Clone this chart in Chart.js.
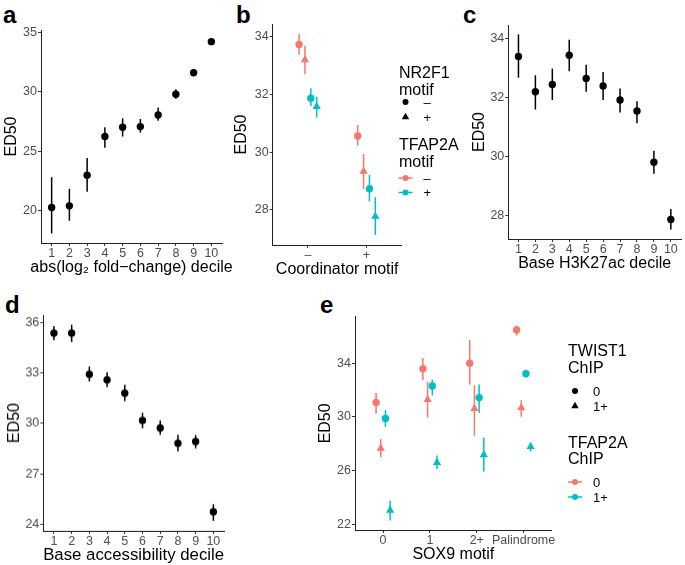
<!DOCTYPE html>
<html><head><meta charset="utf-8">
<script src="https://cdn.jsdelivr.net/npm/chart.js@4"></script>
<style>
html,body{margin:0;padding:0;background:#fff}
body{width:685px;height:565px;position:relative;overflow:hidden;font-family:"Liberation Sans",Arial,sans-serif}
canvas{position:absolute}
.lab{position:absolute;font-weight:bold;font-size:24px;line-height:24px;color:#000}
</style></head><body>
<div class="lab" style="left:3px;top:3px">a</div>
<div class="lab" style="left:236px;top:3px">b</div>
<div class="lab" style="left:463px;top:3px">c</div>
<div class="lab" style="left:5px;top:293px">d</div>
<div class="lab" style="left:320px;top:293px">e</div>
<script>
// ---------- DATA ----------
const decileTicks = ['1','2','3','4','5','6','7','8','9','10'];

// Panel a: abs(log2 fold-change) decile
const aMean = [20.28, 20.42, 23.0, 26.25, 27.03, 27.08, 28.06, 29.8, 31.61, 34.22];
const aLow  = [18.1, 19.17, 21.61, 25.3, 26.25, 26.58, 27.58, 29.42, 31.36, 34.07];
const aHigh = [22.83, 21.86, 24.44, 27.03, 27.78, 27.72, 28.69, 30.22, 31.86, 34.37];
const aYTicks = [20, 25, 30, 35];

// Panel b: Coordinator motif, by TFAP2A motif (colour) and NR2F1 motif (shape)
const bCategories = ['–', '+'];
const bYTicks = [28, 30, 32, 34];
const bTfNegNrNeg   = [33.73, 30.56];
const bTfNegNrNegLo = [33.37, 30.22];
const bTfNegNrNegHi = [34.09, 30.94];
const bTfNegNrPos   = [33.2, 29.33];
const bTfNegNrPosLo = [32.7, 28.72];
const bTfNegNrPosHi = [33.69, 29.93];
const bTfPosNrNeg   = [31.87, 28.73];
const bTfPosNrNegLo = [31.6, 28.29];
const bTfPosNrNegHi = [32.21, 29.21];
const bTfPosNrPos   = [31.58, 27.77];
const bTfPosNrPosLo = [31.2, 27.13];
const bTfPosNrPosHi = [31.92, 28.44];

// Panel c: Base H3K27ac decile
const cMean = [33.4, 32.2, 32.45, 33.44, 32.65, 32.4, 31.92, 31.55, 29.81, 27.86];
const cLow  = [32.68, 31.6, 31.92, 32.9, 32.2, 31.92, 31.5, 31.13, 29.42, 27.52];
const cHigh = [34.15, 32.76, 32.99, 33.97, 33.12, 32.87, 32.31, 31.88, 30.2, 28.22];
const cYTicks = [28, 30, 32, 34];

// Panel d: Base accessibility decile
const dMean = [35.38, 35.38, 32.92, 32.6, 31.8, 30.17, 29.73, 28.82, 28.92, 24.74];
const dLow  = [34.95, 34.85, 32.5, 32.16, 31.32, 29.71, 29.33, 28.34, 28.52, 24.2];
const dHigh = [35.8, 35.88, 33.39, 33.05, 32.3, 30.63, 30.17, 29.33, 29.31, 25.19];
const dYTicks = [24, 27, 30, 33, 36];

// Panel e: SOX9 motif, by TFAP2A ChIP (colour) and TWIST1 ChIP (shape)
const eCategories = ['0', '1', '2+', 'Palindrome'];
const eYTicks = [22, 26, 30, 34];
const eTf0Tw0   = [31.07, 33.58, 34.0, 36.46];
const eTf0Tw0Lo = [30.26, 32.72, 32.4, 36.04];
const eTf0Tw0Hi = [31.78, 34.39, 35.72, 36.78];
const eTf0Tw1   = [27.67, 31.29, 30.63, 30.67];
const eTf0Tw1Lo = [27.0, 29.96, 28.6, 30.01];
const eTf0Tw1Hi = [28.36, 32.6, 32.35, 31.24];
const eTf1Tw0   = [29.89, 32.3, 31.44, 33.21];
const eTf1Tw0Lo = [29.27, 31.61, 30.3, 32.97];
const eTf1Tw0Hi = [30.5, 32.77, 32.42, 33.46];
const eTf1Tw1   = [23.06, 26.61, 27.18, 27.79];
const eTf1Tw1Lo = [22.3, 26.14, 25.95, 27.42];
const eTf1Tw1Hi = [23.78, 27.13, 28.48, 28.11];

// ---------- STYLE ----------
const RED = '#F8766D', CYAN = '#00BFC4', BLACK = '#000000';
const FONT = "'Liberation Sans', Arial, Helvetica, sans-serif";
const DODGE = [-0.15, -0.05, 0.05, 0.15];
Chart.defaults.font.family = FONT;

function drawMark(ctx, style, x, y, r, color) {
  ctx.fillStyle = color;
  ctx.beginPath();
  if (style === 'triangle') {
    let rad = 0;
    ctx.moveTo(x + Math.sin(rad) * r, y - Math.cos(rad) * r);
    rad += 2 * Math.PI / 3;
    ctx.lineTo(x + Math.sin(rad) * r, y - Math.cos(rad) * r);
    rad += 2 * Math.PI / 3;
    ctx.lineTo(x + Math.sin(rad) * r, y - Math.cos(rad) * r);
    ctx.closePath();
  } else {
    ctx.arc(x, y, r, 0, Math.PI * 2);
  }
  ctx.fill();
}

const errorBars = {
  id: 'errorBars',
  beforeDatasetsDraw(chart) {
    const ctx = chart.ctx, y = chart.scales.y;
    chart.data.datasets.forEach((ds, i) => {
      if (!ds.lo) return;
      const meta = chart.getDatasetMeta(i);
      ctx.save();
      ctx.strokeStyle = ds.backgroundColor;
      ctx.lineWidth = 1.5;
      meta.data.forEach((pt, j) => {
        ctx.beginPath();
        ctx.moveTo(pt.x, y.getPixelForValue(ds.lo[j]));
        ctx.lineTo(pt.x, y.getPixelForValue(ds.hi[j]));
        ctx.stroke();
      });
      ctx.restore();
    });
  }
};

function xTitlePlugin(text, size) {
  return {
    id: 'xTitle',
    afterDraw(chart) {
      const ctx = chart.ctx, ca = chart.chartArea;
      ctx.save();
      ctx.font = size + 'px ' + FONT;
      ctx.fillStyle = '#000';
      ctx.textAlign = 'center';
      ctx.textBaseline = 'alphabetic';
      ctx.fillText(text, (ca.left + ca.right) / 2, ca.bottom + 29);
      ctx.restore();
    }
  };
}

function legendPlugin(spec) {
  return {
    id: 'customLegend',
    afterDraw(chart) {
      const ctx = chart.ctx;
      ctx.save();
      spec.forEach(it => {
        if (it.title) {
          ctx.font = '16px ' + FONT;
          ctx.fillStyle = '#000';
          ctx.textBaseline = 'alphabetic';
          ctx.fillText(it.text, it.x, it.y);
        } else {
          if (it.line) {
            ctx.strokeStyle = it.color; ctx.lineWidth = 1.5;
            ctx.beginPath(); ctx.moveTo(it.x - 7, it.y); ctx.lineTo(it.x + 7, it.y); ctx.stroke();
          }
          drawMark(ctx, it.shape, it.x, it.y, it.shape === 'triangle' ? 4.3 : 3, it.color);
          ctx.font = '13px ' + FONT;
          ctx.fillStyle = '#000';
          ctx.textBaseline = 'middle';
          ctx.fillText(it.label, it.x + 18, it.y + 1);
        }
      });
      ctx.restore();
    }
  };
}

function series(cats, means, lo, hi, k, shape, color) {
  return {
    data: means.map((m, i) => ({ x: i + 1 + (k === null ? 0 : DODGE[k]), y: m })),
    lo, hi,
    pointStyle: shape,
    pointRadius: shape === 'triangle' ? 4.8 : 3.7,
    backgroundColor: color,
    borderColor: color,
    borderWidth: 0,
    showLine: false
  };
}

function makePanel(box, xLabels, yTicks, yMin, yMax, xTitle, datasets, extraPlugins) {
  const cv = document.createElement('canvas');
  cv.width = box.w; cv.height = box.h;
  cv.style.left = box.left + 'px'; cv.style.top = box.top + 'px';
  cv.style.width = box.w + 'px'; cv.style.height = box.h + 'px';
  document.body.appendChild(cv);
  const gridOpts = { drawOnChartArea: false, drawTicks: true, tickLength: 3, color: '#333333', lineWidth: 1 };
  return new Chart(cv, {
    type: 'scatter',
    data: { datasets },
    options: {
      responsive: false, animation: false, events: [],
      devicePixelRatio: 1,
      layout: { padding: { top: box.padTop, right: box.padRight, left: 0, bottom: 0 } },
      plugins: { legend: { display: false }, tooltip: { enabled: false } },
      scales: {
        x: {
          type: 'linear', min: 0.4, max: xLabels.length + 0.6,
          afterBuildTicks: s => { s.ticks = xLabels.map((_, i) => ({ value: i + 1 })); },
          afterFit: s => { s.height = box.xHeight; },
          ticks: { autoSkip: false, maxRotation: 0, color: '#4D4D4D', font: { size: 12.5 }, padding: 0,
                   callback: v => xLabels[Math.round(v) - 1] },
          grid: gridOpts,
          border: { display: true, color: '#222222', width: 1 },
          title: { display: false }
        },
        y: {
          type: 'linear', min: yMin, max: yMax,
          afterBuildTicks: s => { s.ticks = yTicks.map(v => ({ value: v })); },
          afterFit: s => { s.width = box.yWidth; },
          ticks: { autoSkip: false, color: '#4D4D4D', font: { size: 12.5 }, padding: 1 },
          grid: gridOpts,
          border: { display: true, color: '#222222', width: 1 },
          title: { display: true, text: 'ED50', color: '#000', font: { size: 16 }, padding: { top: 2, bottom: 0 } }
        }
      }
    },
    plugins: [errorBars, xTitlePlugin(xTitle, box.titleSize || 16)].concat(extraPlugins || [])
  });
}

// Panel a
makePanel({ left: 0, top: 0, w: 238, h: 278.3, yWidth: 41, padTop: 30, padRight: 16, xHeight: 35, titleSize: 16 },
  decileTicks, aYTicks, 17.3, 35.2, 'abs(log\u2082 fold\u2212change) decile',
  [series(decileTicks, aMean, aLow, aHigh, null, 'circle', BLACK)]);

// Panel b
const bLeft = 230;
makePanel({ left: bLeft, top: 0, w: 240, h: 280, yWidth: 42.7, padTop: 24, padRight: 68.3, xHeight: 35 },
  bCategories, bYTicks, 26.78, 34.44, 'Coordinator motif',
  [series(bCategories, bTfNegNrNeg, bTfNegNrNegLo, bTfNegNrNegHi, 0, 'circle', RED),
   series(bCategories, bTfNegNrPos, bTfNegNrPosLo, bTfNegNrPosHi, 1, 'triangle', RED),
   series(bCategories, bTfPosNrNeg, bTfPosNrNegLo, bTfPosNrNegHi, 2, 'circle', CYAN),
   series(bCategories, bTfPosNrPos, bTfPosNrPosLo, bTfPosNrPosHi, 3, 'triangle', CYAN)],
  [legendPlugin([
    { title: true, text: 'NR2F1', x: 399 - bLeft, y: 77.5 },
    { title: true, text: 'motif', x: 399 - bLeft, y: 95 },
    { shape: 'circle', color: BLACK, x: 405.5 - bLeft, y: 102, label: '\u2013' },
    { shape: 'triangle', color: BLACK, x: 405.5 - bLeft, y: 117, label: '+' },
    { title: true, text: 'TFAP2A', x: 399 - bLeft, y: 150 },
    { title: true, text: 'motif', x: 399 - bLeft, y: 167 },
    { shape: 'circle', color: RED, line: true, x: 405.5 - bLeft, y: 178, label: '\u2013' },
    { shape: 'circle', color: CYAN, line: true, x: 405.5 - bLeft, y: 192.5, label: '+' }
  ])]);

// Panel c
makePanel({ left: 468, top: 0, w: 217, h: 274.3, yWidth: 40.3, padTop: 25, padRight: 2, xHeight: 35 },
  decileTicks, cYTicks, 27.2, 34.47, 'Base H3K27ac decile',
  [series(decileTicks, cMean, cLow, cHigh, null, 'circle', BLACK)]);

// Panel d
makePanel({ left: 3, top: 285, w: 236, h: 280.7, yWidth: 40.3, padTop: 30, padRight: 15, xHeight: 35, titleSize: 16.8 },
  decileTicks, dYTicks, 23.6, 36.45, 'Base accessibility decile',
  [series(decileTicks, dMean, dLow, dHigh, null, 'circle', BLACK)]);

// Panel e
const eLeft = 314, eTop = 285;
makePanel({ left: eLeft, top: eTop, w: 371, h: 280, yWidth: 41, padTop: 31.7, padRight: 133.3, xHeight: 35 },
  eCategories, eYTicks, 21.6, 37.45, 'SOX9 motif',
  [series(eCategories, eTf0Tw0, eTf0Tw0Lo, eTf0Tw0Hi, 0, 'circle', RED),
   series(eCategories, eTf0Tw1, eTf0Tw1Lo, eTf0Tw1Hi, 1, 'triangle', RED),
   series(eCategories, eTf1Tw0, eTf1Tw0Lo, eTf1Tw0Hi, 2, 'circle', CYAN),
   series(eCategories, eTf1Tw1, eTf1Tw1Lo, eTf1Tw1Hi, 3, 'triangle', CYAN)],
  [legendPlugin([
    { title: true, text: 'TWIST1', x: 568 - eLeft, y: 355.5 - eTop },
    { title: true, text: 'ChIP', x: 568 - eLeft, y: 372.5 - eTop },
    { shape: 'circle', color: BLACK, x: 575 - eLeft, y: 391 - eTop, label: '0' },
    { shape: 'triangle', color: BLACK, x: 575 - eLeft, y: 406 - eTop, label: '1+' },
    { title: true, text: 'TFAP2A', x: 568 - eLeft, y: 447.5 - eTop },
    { title: true, text: 'ChIP', x: 568 - eLeft, y: 464 - eTop },
    { shape: 'circle', color: RED, line: true, x: 575 - eLeft, y: 482 - eTop, label: '0' },
    { shape: 'circle', color: CYAN, line: true, x: 575 - eLeft, y: 497 - eTop, label: '1+' }
  ])]);
</script>
</body></html>
